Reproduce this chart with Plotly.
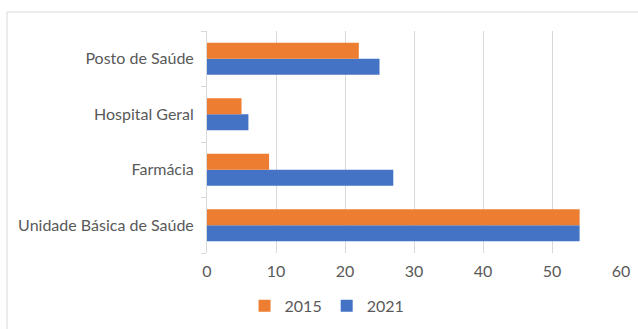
import plotly.graph_objects as go

categories = ["Unidade Básica de Saúde", "Farmácia", "Hospital Geral", "Posto de Saúde"]
values_2015 = [54, 9, 5, 22]
values_2021 = [54, 27, 6, 25]

fig = go.Figure()
fig.add_trace(go.Bar(y=categories, x=values_2021, orientation="h", name="2021",
                     marker=dict(color="#4472C4", line=dict(width=0)), legendrank=2))
fig.add_trace(go.Bar(y=categories, x=values_2015, orientation="h", name="2015",
                     marker=dict(color="#ED7D31", line=dict(width=0)), legendrank=1))

fig.update_layout(
    width=638, height=329,
    margin=dict(l=207, r=17, t=31, b=76, autoexpand=False),
    barmode="group", bargap=0.42, bargroupgap=0,
    plot_bgcolor="white", paper_bgcolor="white",
    font=dict(family="Lato, Open Sans, sans-serif", size=16, color="#595959"),
    xaxis=dict(range=[0, 60], dtick=10, showgrid=True, gridcolor="#d9d9d9", gridwidth=1,
               zeroline=False, showline=False, ticks="", ticklabelstandoff=7,
               tickfont=dict(size=16, color="#595959"), fixedrange=True),
    yaxis=dict(categoryorder="array", categoryarray=categories, showline=True,
               linecolor="#d9d9d9", linewidth=1, ticks="outside", ticklen=5,
               tickcolor="#d9d9d9", tickson="boundaries", ticklabelstandoff=9,
               tickfont=dict(size=16, color="#595959"), showgrid=False),
    legend=dict(orientation="h", x=0.29, xanchor="center", yref="container", y=0.07,
                yanchor="middle", font=dict(size=16, color="#595959"), itemwidth=30,
                traceorder="normal"),
    showlegend=True,
    shapes=[dict(type="rect", xref="paper", yref="paper", x0=-0.483, x1=1.2,
                 y0=-0.5, y1=1.0856, line=dict(color="#d9d9d9", width=1), layer="below")],
)

fig.write_html("out.html")
